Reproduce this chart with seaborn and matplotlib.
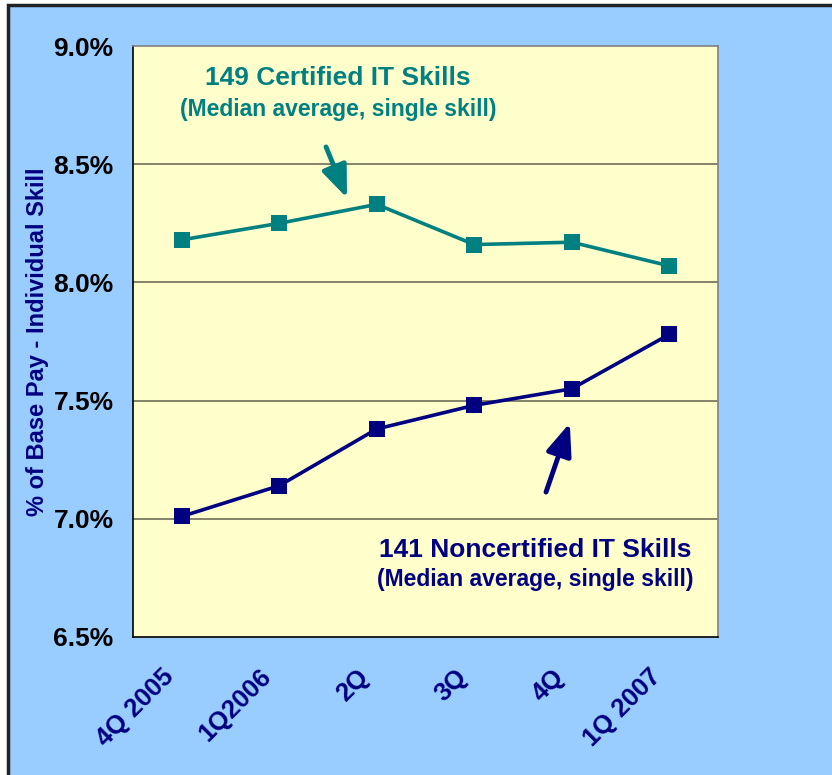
import matplotlib
matplotlib.use("Agg")
from matplotlib import pyplot as plt
from matplotlib.patches import Rectangle
import matplotlib.transforms as mtransforms
import seaborn as sns
import pandas as pd

# donnees
quarters = ["4Q 2005", "1Q2006", "2Q", "3Q", "4Q", "1Q 2007"]
certified = [8.18, 8.25, 8.33, 8.16, 8.17, 8.07]
noncertified = [7.01, 7.14, 7.38, 7.48, 7.55, 7.78]
y_ticks = [6.5, 7.0, 7.5, 8.0, 8.5, 9.0]

TEAL = "#008080"
NAVY = "#000080"

sns.set_style("white")
plt.rcParams["font.family"] = ["Liberation Sans", "DejaVu Sans"]

df = pd.DataFrame({
    "pos": list(range(len(quarters))) * 2,
    "value": certified + noncertified,
    "serie": ["certified"] * len(quarters) + ["noncertified"] * len(quarters),
})

fig = plt.figure(figsize=(8.32, 7.75), dpi=100)
fig.patch.set_facecolor("white")
# fond bleu avec bordure noire (haut et gauche seulement visibles)
fig.patches.append(Rectangle((8 / 832, -0.02), 1, 1.02 - 5 / 775, transform=fig.transFigure,
                             facecolor="#99CCFF", edgecolor="#222222", linewidth=2.5, zorder=-10))

ax = fig.add_axes([133 / 832, 138 / 775, 585 / 832, 591 / 775])
ax.set_facecolor("#FFFFCC")

sns.lineplot(data=df, x="pos", y="value", hue="serie", palette={"certified": TEAL, "noncertified": NAVY},
             marker="s", markersize=12, markeredgewidth=0, linewidth=2.6, legend=False, ax=ax)

ax.set_xlim(-0.5, len(quarters) - 0.5)
ax.set_ylim(6.5, 9.0)

for v in y_ticks[1:-1]:
    ax.axhline(v, color="#6E6E5A", linewidth=1.2, zorder=0.5)

# ticks aux limites de categories, etiquettes au centre
ax.set_xticks([i - 0.5 for i in range(len(quarters) + 1)])
ax.set_xticklabels([])
ax.set_xticks(range(len(quarters)), minor=True)
ax.set_xticklabels(quarters, minor=True, rotation=45, ha="right", va="top",
                   rotation_mode="anchor", color=NAVY, fontsize=18.5, fontweight="bold")
ax.tick_params(axis="x", which="major", length=8, width=1.2, color="black", direction="out")
ax.tick_params(axis="x", which="minor", length=0, pad=20)
shift = mtransforms.ScaledTranslation(-20 / 100, 0, fig.dpi_scale_trans)
for lab in ax.get_xticklabels(minor=True):
    lab.set_transform(lab.get_transform() + shift)

ax.set_yticks(y_ticks)
ax.set_yticklabels([f"{v:.1f}%" for v in y_ticks], fontsize=19, fontweight="bold", color="black")
ax.tick_params(axis="y", length=10, width=1.2, color="#444444", direction="out", pad=4)

ax.set_xlabel("")
ax.set_ylabel("% of Base Pay - Individual Skill", color=NAVY, fontsize=17, fontweight="bold",
              labelpad=3)

for side in ["top", "right"]:
    ax.spines[side].set_color("#808080")
    ax.spines[side].set_linewidth(1.2)
for side in ["left", "bottom"]:
    ax.spines[side].set_color("black")
    ax.spines[side].set_linewidth(1.2)

# annotations
arrow_style = "-|>,head_length=1.5,head_width=0.6"
ax.text(1.6, 8.865, "149 Certified IT Skills", color=TEAL, fontsize=19, fontweight="bold",
        ha="center", va="center")
ax.text(1.6, 8.73, "(Median average, single skill)", color=TEAL, fontsize=16.5, fontweight="bold",
        ha="center", va="center")
ax.annotate("", xy=(1.695, 8.357), xytext=(1.48, 8.573),
            arrowprops=dict(arrowstyle=arrow_style, color=TEAL, lw=3.5,
                            shrinkA=0, shrinkB=0, mutation_scale=13))

ax.text(3.63, 6.87, "141 Noncertified IT Skills", color=NAVY, fontsize=19, fontweight="bold",
        ha="center", va="center")
ax.text(3.63, 6.745, "(Median average, single skill)", color=NAVY, fontsize=16.5, fontweight="bold",
        ha="center", va="center")
ax.annotate("", xy=(3.98, 7.405), xytext=(3.736, 7.113),
            arrowprops=dict(arrowstyle=arrow_style, color=NAVY, lw=3.5,
                            shrinkA=0, shrinkB=0, mutation_scale=13))

fig.savefig("out.png", dpi=100, facecolor=fig.get_facecolor())
